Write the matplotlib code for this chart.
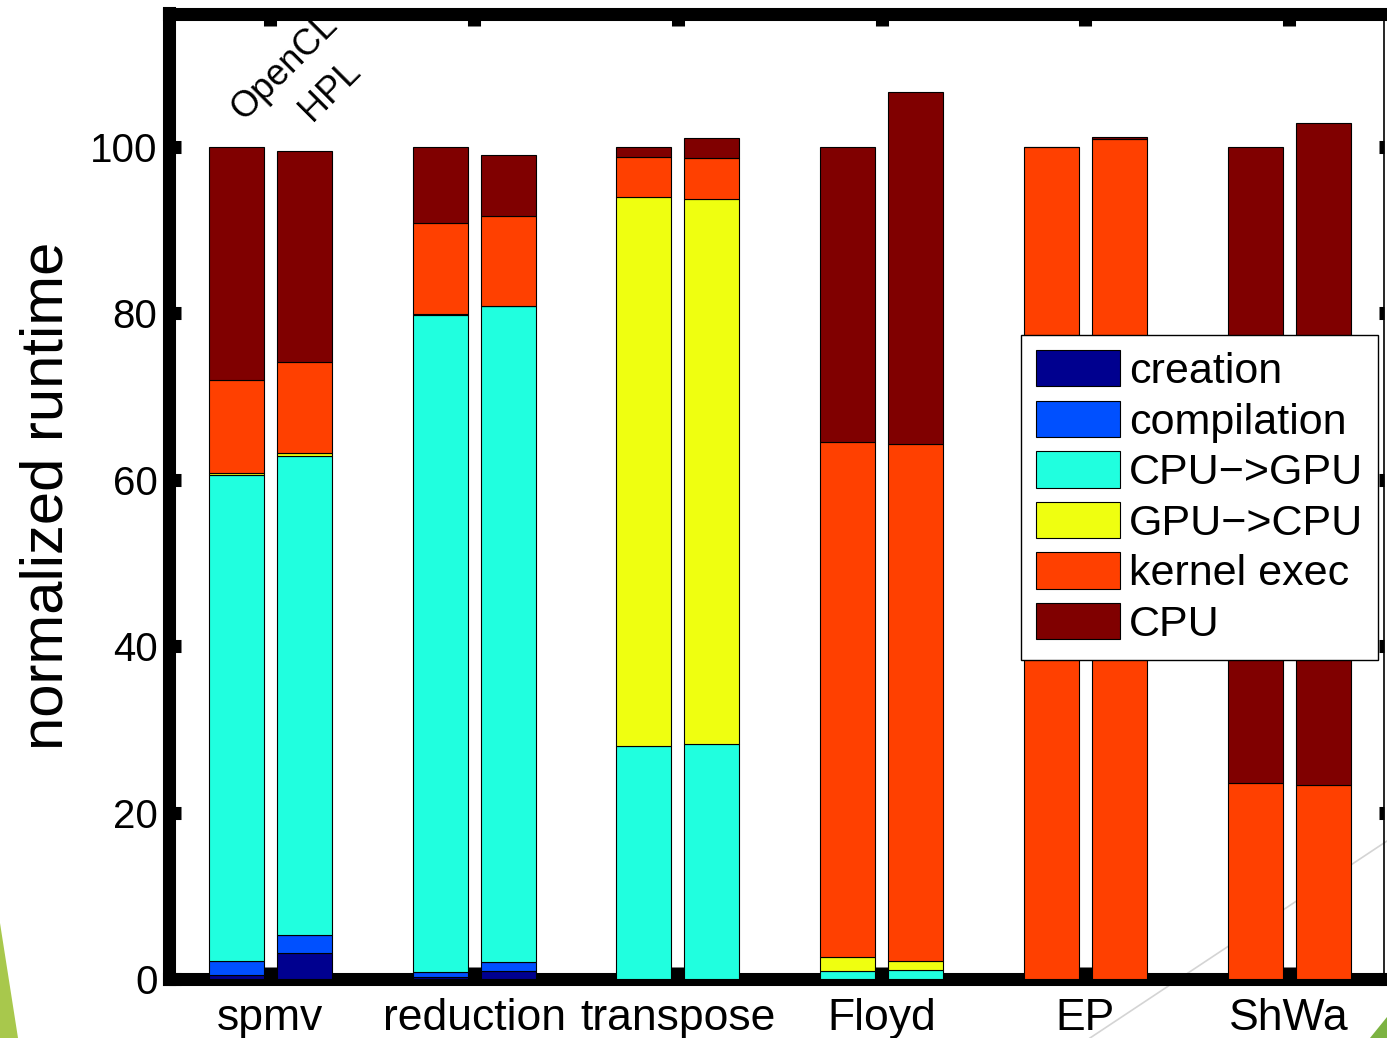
import matplotlib
matplotlib.use("Agg")
import matplotlib.pyplot as plt
import numpy as np
from matplotlib.patches import Patch, Polygon
from matplotlib.lines import Line2D

plt.rcParams['font.family'] = ['Liberation Sans', 'DejaVu Sans']

# Benchmarks and runtime components (percent of OpenCL total)
groups = ['spmv', 'reduction', 'transpose', 'Floyd', 'EP', 'ShWa']
components = ['creation', 'compilation', 'CPU\u2212>GPU', 'GPU\u2212>CPU', 'kernel exec', 'CPU']
versions = ['OpenCL', 'HPL']

creation_ocl    = [0.5, 0.2, 0.0, 0.0, 0.0, 0.0]
compilation_ocl = [1.7, 0.6, 0.0, 0.0, 0.0, 0.0]
cpu2gpu_ocl     = [58.3, 79.0, 28.0, 1.0, 0.0, 0.0]
gpu2cpu_ocl     = [0.3, 0.1, 65.9, 1.6, 0.0, 0.0]
kernel_ocl      = [11.2, 10.9, 4.8, 61.9, 100.0, 23.5]
cpu_ocl         = [28.0, 9.2, 1.3, 35.5, 0.0, 76.5]

creation_hpl    = [3.1, 1.0, 0.0, 0.0, 0.0, 0.0]
compilation_hpl = [2.2, 1.0, 0.0, 0.0, 0.0, 0.0]
cpu2gpu_hpl     = [57.5, 78.9, 28.2, 1.1, 0.0, 0.0]
gpu2cpu_hpl     = [0.4, 0.0, 65.5, 1.1, 0.0, 0.0]
kernel_hpl      = [10.9, 10.8, 4.9, 62.1, 100.9, 23.3]
cpu_hpl         = [25.4, 7.3, 2.4, 42.3, 0.3, 79.5]

ytick_values = [0, 20, 40, 60, 80, 100]

colors = ['#00008F', '#0050FF', '#20FFDF', '#EFFF10', '#FF4000', '#800000']

series = {
    'OpenCL': [creation_ocl, compilation_ocl, cpu2gpu_ocl, gpu2cpu_ocl, kernel_ocl, cpu_ocl],
    'HPL': [creation_hpl, compilation_hpl, cpu2gpu_hpl, gpu2cpu_hpl, kernel_hpl, cpu_hpl],
}

W, H = 1387, 1038
fig = plt.figure(figsize=(W / 100, H / 100), dpi=100)
fig.patch.set_facecolor('white')

# slide background decorations, kept behind the axes
fig.patches.append(Polygon([(0, 1 - 923 / H), (18 / W, 0), (0, 0)], closed=True,
                           transform=fig.transFigure, facecolor='#A8C84C', edgecolor='none', zorder=-2))
fig.patches.append(Polygon([(1370 / W, 0), (1.0, 1 - 1017 / H), (1.0, 0)], closed=True,
                           transform=fig.transFigure, facecolor='#7CB342', edgecolor='none', zorder=-2))
fig.lines.append(Line2D([1090 / W, 1.0], [1 - 1038 / H, 1 - 841 / H], transform=fig.transFigure,
                        color='#D4D4D4', lw=1.2, zorder=-2))

left, right = 168.5 / W, 1384 / W
bottom, top = 1 - 979 / H, 1 - 13.5 / H
ax = fig.add_axes([left, bottom, right - left, top - bottom])
ax.patch.set_alpha(0)

x = np.arange(1, len(groups) + 1)
offsets = {'OpenCL': -0.167, 'HPL': 0.167}
bar_w = 0.27

for ver in versions:
    base = np.zeros(len(groups))
    for comp, vals, col in zip(components, series[ver], colors):
        vals = np.asarray(vals)
        ax.bar(x + offsets[ver], vals, bar_w, bottom=base, color=col,
               edgecolor='black', linewidth=0.8, zorder=3)
        base = base + vals

ax.set_xlim(0.5, 6.466)
ax.set_ylim(0, 116)
ax.set_xticks(x)
ax.set_xticklabels(groups, fontsize=32)
ax.set_yticks(ytick_values)
ax.set_yticklabels([str(v) for v in ytick_values], fontsize=29)
ax.set_ylabel('normalized runtime', fontsize=43, labelpad=11)

spine_lw = 9.4
for side in ['left', 'top', 'bottom']:
    ax.spines[side].set_linewidth(spine_lw)
ax.spines['right'].set_linewidth(1.2)

ax.tick_params(axis='both', which='major', direction='in', length=8.6, width=spine_lw,
               top=True, right=True, color='black')
ax.tick_params(axis='y', pad=8)
ax.tick_params(axis='x', pad=14)
for t in ax.yaxis.get_major_ticks():
    t.tick2line.set_markersize(3.8)

# version labels over the first group
for ver in versions:
    ax.text(1 + offsets[ver] + 0.035, 103, ver, rotation=45, rotation_mode='anchor',
            ha='left', va='baseline', fontsize=26, zorder=4)

handles = [Patch(facecolor=c, edgecolor='black', linewidth=0.8) for c in colors]
leg = ax.legend(handles, components, loc='upper right', fontsize=31,
                bbox_to_anchor=(1378 / W, 1 - 335 / H), bbox_transform=fig.transFigure,
                handlelength=1.95, handleheight=0.92, handletextpad=0.2,
                labelspacing=0.2, borderpad=0.35, borderaxespad=0,
                frameon=True, fancybox=False, edgecolor='black', framealpha=1)
leg.get_frame().set_linewidth(1.0)
leg.set_zorder(5)

fig.savefig('out.png', dpi=100)
